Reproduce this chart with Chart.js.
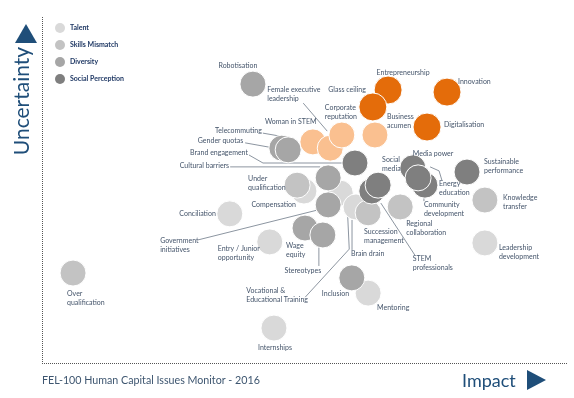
<!DOCTYPE html>
<html>
<head>
<meta charset="utf-8">
<script src="https://cdn.jsdelivr.net/npm/chart.js@4.4.1/dist/chart.umd.min.js"></script>
<style>
  html, body { margin: 0; padding: 0; background: #fff; }
  canvas { display: block; }
</style>
</head>
<body>
<canvas id="chart" width="574" height="398"></canvas>
<script>
// Issue groups: name, impact (x), uncertainty (y)
const talentIssues = ['Conciliation', 'Entry / Junior opportunity', 'Compensation', 'Vocational & Educational Training',
                      'Brain drain', 'Mentoring', 'Internships', 'Leadership development'];
const talentImpact = [35.7, 43.3, 49.8, 56.7, 59.7, 62.0, 44.1, 84.2];
const talentUncertainty = [43.1, 35.0, 49.7, 49.1, 45.1, 20.2, 10.1, 34.7];

const skillsIssues = ['Over qualification', 'Under qualification', 'Succession management', 'Regional collaboration', 'Knowledge transfer'];
const skillsImpact = [5.9, 48.5, 62.0, 68.1, 84.2];
const skillsUncertainty = [26.0, 51.4, 43.4, 45.1, 47.1];

const diversityIssues = ['Robotisation', 'Telecommuting', 'Gender quotas', 'Cultural barriers', 'Government initiatives',
                         'Wage equity', 'Stereotypes', 'Inclusion'];
const diversityImpact = [40.1, 45.6, 46.8, 54.4, 54.4, 50.0, 53.4, 58.9];
const diversityUncertainty = [80.6, 62.1, 61.6, 53.5, 45.7, 39.0, 37.0, 24.6];

const socialIssues = ['Brand engagement', 'STEM professionals', 'Social media', 'Media power', 'Community development',
                      'Energy education', 'Sustainable performance'];
const socialImpact = [59.5, 62.7, 63.9, 70.5, 72.8, 71.5, 80.8];
const socialUncertainty = [57.8, 49.7, 51.4, 56.4, 51.4, 53.5, 55.2];

const emergingIssues = ['Woman in STEM', 'Female executive leadership', 'Corporate reputation', 'Business acumen'];
const emergingImpact = [51.5, 54.8, 57.0, 63.3];
const emergingUncertainty = [63.9, 62.1, 65.9, 65.9];

const topIssues = ['Entrepreneurship', 'Glass ceiling', 'Innovation', 'Digitalisation'];
const topImpact = [65.8, 62.9, 77.0, 73.2];
const topUncertainty = [78.9, 74.0, 78.3, 68.2];

// where each label sits relative to its bubble (pixels), plus optional leader line
const labelLayout = {
  'Robotisation': { dx: -15, dy: -18, align: 'center' },
  'Female executive leadership': { text: ['Female executive', 'leadership'], dx: -63, dy: -58, lead: [[-27, -45], [-3, -17]] },
  'Woman in STEM': { dx: -48, dy: -20 },
  'Corporate reputation': { text: ['Corporate', 'reputation'], dx: -17, dy: -27 },
  'Glass ceiling': { dx: -7, dy: -17, align: 'right' },
  'Entrepreneurship': { dx: 15, dy: -17, align: 'center' },
  'Innovation': { dx: 11, dy: -10 },
  'Business acumen': { text: ['Business', 'acumen'], dx: 12, dy: -18 },
  'Digitalisation': { dx: 17, dy: -2 },
  'Telecommuting': { dx: -20, dy: -17, align: 'right', lead: [[-19, -15], [4, -11]] },
  'Gender quotas': { dx: -45, dy: -9, align: 'right', lead: [[-43, -7], [-15, -2]] },
  'Brand engagement': { dx: -107, dy: -10, align: 'right', lead: [[-106, -8], [-92, 0], [-13, 0]] },
  'Cultural barriers': { dx: -99, dy: -12, align: 'right', lead: [[-98, -11], [-8, -11]] },
  'Under qualification': { text: ['Under', 'qualification'], dx: -49, dy: -6 },
  'Compensation': { dx: -8, dy: 14, align: 'right' },
  'Conciliation': { dx: -14, dy: 0, align: 'right' },
  'Government initiatives': { text: ['Government', 'initiatives'], dx: -168, dy: 36, lead: [[-130, 35], [-10, 5]] },
  'Entry / Junior opportunity': { text: ['Entry / Junior', 'opportunity'], dx: -52, dy: 7 },
  'Wage equity': { text: ['Wage', 'equity'], dx: -19, dy: 18 },
  'Stereotypes': { dx: -20, dy: 36, align: 'center', lead: [[-4, 12], [-4, 31]] },
  'Brain drain': { dx: -5, dy: 47, lead: [[-4, 13], [-4, 43]] },
  'Vocational & Educational Training': { text: ['Vocational &', 'Educational Training'], dx: -94, dy: 98, lead: [[-35, 104], [9, 56], [7, 13]] },
  'Succession management': { text: ['Succession', 'management'], dx: -4, dy: 19 },
  'STEM professionals': { text: ['STEM', 'professionals'], dx: 41, dy: 68, lead: [[43, 64], [9, 12]] },
  'Regional collaboration': { text: ['Regional', 'collaboration'], dx: 6, dy: 17 },
  'Social media': { text: ['Social', 'media'], dx: 4, dy: -25 },
  'Media power': { dx: 0, dy: -14 },
  'Energy education': { text: ['Energy', 'education'], dx: 21, dy: 6, lead: [[12, -11], [21, -7], [24, 3]] },
  'Community development': { text: ['Community', 'development'], dx: -1, dy: 20, lead: [[-1, 13], [-1, 16]] },
  'Sustainable performance': { text: ['Sustainable', 'performance'], dx: 17, dy: -10 },
  'Knowledge transfer': { text: ['Knowledge', 'transfer'], dx: 18, dy: -2 },
  'Leadership development': { text: ['Leadership', 'development'], dx: 14, dy: 5 },
  'Inclusion': { dx: -30, dy: 16 },
  'Mentoring': { dx: 9, dy: 15 },
  'Internships': { dx: 1, dy: 20, align: 'center' },
  'Over qualification': { text: ['Over', 'qualification'], dx: -6, dy: 21 }
};

const NAVY = '#1f4e79';
const LABEL_COLOR = '#44546a';

// order: higher number is painted first (underneath)
function makeSet(label, names, xs, ys, color, r, inLegend, order) {
  return {
    label: label,
    names: names,
    inLegend: inLegend,
    order: order,
    data: names.map((n, i) => ({ x: xs[i], y: ys[i] })),
    backgroundColor: color,
    borderColor: '#ffffff',
    borderWidth: 1,
    radius: r,
    hoverRadius: 0
  };
}

const datasets = [
  makeSet('Talent', talentIssues, talentImpact, talentUncertainty, '#d9d9d9', 13, true, 6),
  makeSet('Skills Mismatch', skillsIssues, skillsImpact, skillsUncertainty, '#c3c3c3', 13, true, 5),
  makeSet('Diversity', diversityIssues, diversityImpact, diversityUncertainty, '#a6a6a6', 13, true, 4),
  makeSet('Social Perception', socialIssues, socialImpact, socialUncertainty, '#7f7f7f', 13, true, 3),
  makeSet('Emerging', emergingIssues, emergingImpact, emergingUncertainty, '#fac090', 13, false, 2),
  makeSet('Top issues', topIssues, topImpact, topUncertainty, '#e46c0a', 14, false, 1)
];

// leader lines under the bubbles, labels on top
const labelPlugin = {
  id: 'issueLabels',
  beforeDatasetsDraw(chart) {
    const ctx = chart.ctx;
    ctx.save();
    ctx.strokeStyle = '#6f7a88';
    ctx.lineWidth = 0.8;
    chart.data.datasets.forEach((ds, di) => {
      chart.getDatasetMeta(di).data.forEach((pt, i) => {
        const lay = labelLayout[ds.names[i]];
        if (!lay || !lay.lead) return;
        ctx.beginPath();
        lay.lead.forEach(([dx, dy], k) => {
          if (k === 0) ctx.moveTo(pt.x + dx, pt.y + dy);
          else ctx.lineTo(pt.x + dx, pt.y + dy);
        });
        ctx.stroke();
      });
    });
    ctx.restore();
  },
  afterDatasetsDraw(chart) {
    const ctx = chart.ctx;
    ctx.save();
    ctx.font = '7px Lato';
    ctx.fillStyle = LABEL_COLOR;
    ctx.textBaseline = 'middle';
    chart.data.datasets.forEach((ds, di) => {
      chart.getDatasetMeta(di).data.forEach((pt, i) => {
        const name = ds.names[i];
        const lay = labelLayout[name] || { dx: 15, dy: 0 };
        const lines = lay.text || [name];
        ctx.textAlign = lay.align || 'left';
        lines.forEach((t, k) => ctx.fillText(t, pt.x + lay.dx, pt.y + lay.dy + k * 8.7));
      });
    });
    ctx.restore();
  }
};

// dotted axes, arrows, axis words, legend and footer
const framePlugin = {
  id: 'frame',
  afterDraw(chart) {
    const ctx = chart.ctx;
    const a = chart.chartArea;
    ctx.save();

    ctx.strokeStyle = '#555';
    ctx.lineWidth = 1;
    ctx.setLineDash([1, 1]);
    ctx.beginPath();
    ctx.moveTo(a.left + 0.5, a.top);
    ctx.lineTo(a.left + 0.5, a.bottom);
    ctx.moveTo(a.left, a.bottom + 0.5);
    ctx.lineTo(a.right, a.bottom + 0.5);
    ctx.stroke();
    ctx.setLineDash([]);

    // legend
    let ly = a.top + 11;
    chart.data.datasets.forEach(ds => {
      if (!ds.inLegend) return;
      ctx.beginPath();
      ctx.arc(a.left + 18, ly, 5, 0, Math.PI * 2);
      ctx.fillStyle = ds.backgroundColor;
      ctx.fill();
      ctx.fillStyle = '#1f3864';
      ctx.font = 'bold 7px Lato';
      ctx.textAlign = 'left';
      ctx.textBaseline = 'middle';
      ctx.fillText(ds.label, a.left + 28, ly);
      ly += 17;
    });

    // Uncertainty + up arrow
    ctx.fillStyle = NAVY;
    ctx.beginPath();
    ctx.moveTo(26, 24);
    ctx.lineTo(37, 43);
    ctx.lineTo(15, 43);
    ctx.closePath();
    ctx.fill();
    ctx.save();
    ctx.translate(29, 101);
    ctx.rotate(-Math.PI / 2);
    ctx.font = '21px Lato';
    ctx.textAlign = 'center';
    ctx.textBaseline = 'alphabetic';
    ctx.fillText('Uncertainty', 0, 0);
    ctx.restore();

    // Impact + right arrow
    ctx.font = '18px Lato';
    ctx.textAlign = 'left';
    ctx.textBaseline = 'alphabetic';
    ctx.fillText('Impact', 462, 387);
    ctx.beginPath();
    ctx.moveTo(527, 370);
    ctx.lineTo(546, 380);
    ctx.lineTo(527, 390);
    ctx.closePath();
    ctx.fill();

    // footer
    ctx.fillStyle = '#3e5670';
    ctx.font = '10.7px Lato';
    ctx.fillText('FEL-100 Human Capital Issues Monitor - 2016', a.left, 384);

    ctx.restore();
  }
};

new Chart(document.getElementById('chart'), {
  type: 'bubble',
  data: { datasets: datasets },
  options: {
    responsive: false,
    animation: false,
    layout: { autoPadding: false, padding: { left: 42, top: 17, right: 6, bottom: 35 } },
    scales: {
      x: { min: 0, max: 100, display: false },
      y: { min: 0, max: 100, display: false }
    },
    plugins: {
      legend: { display: false },
      tooltip: { enabled: false }
    }
  },
  plugins: [labelPlugin, framePlugin]
});
</script>
</body>
</html>
